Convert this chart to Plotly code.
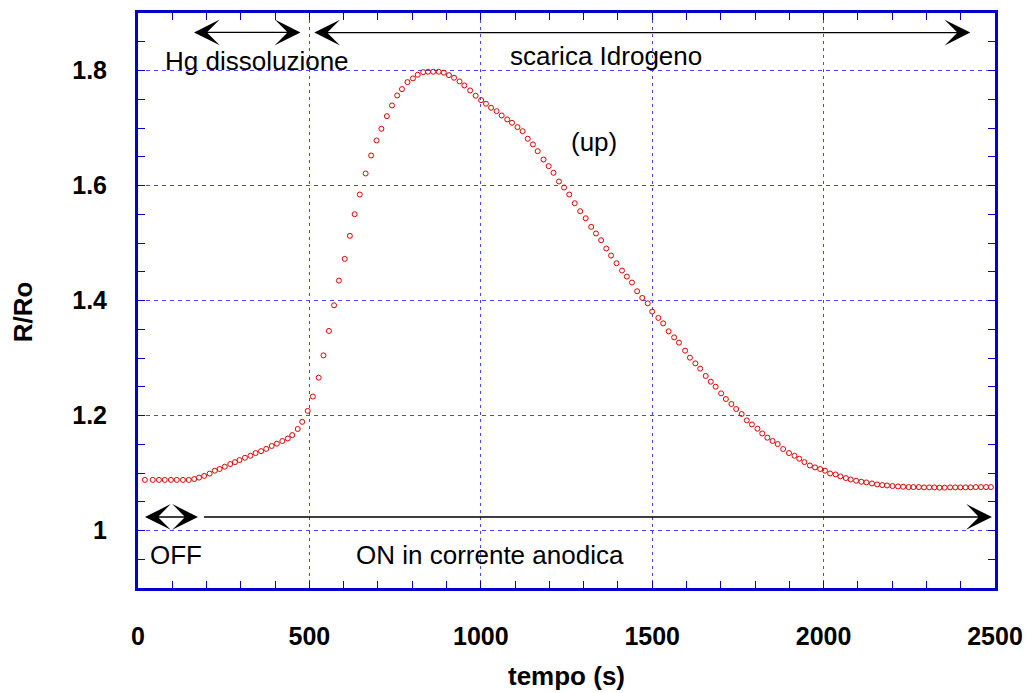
import plotly.graph_objects as go

# ---- data ----
tempo_s = [
    20, 43, 61, 78, 96, 113, 131, 148, 164, 178, 193, 209, 224, 238, 253, 269,
    283, 296, 312, 328, 343, 359, 374, 390, 405, 421, 437, 450, 466, 479, 495, 510,
    527, 541, 557, 572, 586, 603, 618, 632, 647, 664, 680, 696, 710, 726, 741, 756,
    770, 786, 802, 816, 832, 846, 861, 877, 892, 907, 922, 938, 952, 969, 985,
    1001, 1015, 1030, 1046, 1061, 1077, 1091, 1107, 1122, 1137, 1152, 1166, 1183,
    1198, 1212, 1228, 1243, 1258, 1274, 1290, 1306,
    1322, 1336, 1351, 1366, 1380, 1396, 1412, 1426, 1441, 1456, 1471, 1487, 1500, 1518,
    1532, 1548, 1564, 1578, 1596, 1610, 1626, 1640, 1656, 1671, 1685, 1701, 1715,
    1731, 1745, 1761, 1776, 1791, 1807, 1821, 1836, 1851, 1866, 1882,
    1899, 1915, 1929, 1944, 1960, 1975, 1990, 2004, 2019, 2035, 2049, 2065, 2079,
    2095, 2110, 2125, 2141, 2156, 2171, 2185, 2201, 2217, 2232, 2248,
    2262, 2278, 2293, 2308, 2323, 2338, 2353, 2369, 2384, 2399, 2414, 2429, 2444,
    2459, 2474, 2488,
]
r_ro = [
    1.088, 1.088, 1.088, 1.088, 1.088, 1.088, 1.088, 1.088, 1.0895, 1.092, 1.095,
    1.099, 1.104, 1.107, 1.111, 1.1155, 1.119, 1.1225, 1.1265, 1.130, 1.1347, 1.138,
    1.142, 1.147, 1.151, 1.1556, 1.160, 1.166, 1.1765, 1.189, 1.208, 1.233,
    1.2658, 1.3046, 1.3471, 1.3917, 1.4346, 1.4724, 1.5124, 1.5501, 1.5843, 1.6209,
    1.6522, 1.6783, 1.6986, 1.7206, 1.7392, 1.7566, 1.7676, 1.7798, 1.7862, 1.7926,
    1.7972, 1.7979, 1.7979, 1.7979, 1.7962, 1.792, 1.7874, 1.781, 1.774, 1.7653, 1.7561,
    1.7485, 1.7422, 1.7352, 1.7293, 1.7218, 1.7149, 1.7091, 1.7015, 1.6945, 1.6813,
    1.6714, 1.6597, 1.6452, 1.6336, 1.6221, 1.6069, 1.5965, 1.5843, 1.5692, 1.5553, 1.5431,
    1.5281, 1.5165, 1.5048, 1.4904, 1.4782, 1.4648, 1.4521, 1.4416, 1.4312, 1.4161,
    1.4045, 1.3951, 1.3807, 1.3697,
    1.3603, 1.3464, 1.3359, 1.3267, 1.3128, 1.3006, 1.2907, 1.2815, 1.2688, 1.2588,
    1.2501, 1.2385, 1.2287, 1.2200, 1.2113, 1.2026, 1.1915, 1.1845, 1.1770, 1.1688,
    1.1614, 1.1556, 1.1504, 1.1417,
    1.1347, 1.1300, 1.1248, 1.1190, 1.1131, 1.1097, 1.1069, 1.1040, 1.0992, 1.0975,
    1.0940, 1.0912, 1.0888, 1.0865, 1.0848, 1.0836, 1.0818, 1.0801, 1.0790, 1.0783,
    1.0773, 1.0766, 1.0761, 1.0755,
    1.0755, 1.0755, 1.0750, 1.0750, 1.0750, 1.0745, 1.0745, 1.0750, 1.0750, 1.0750,
    1.0750, 1.0750, 1.0755, 1.0755, 1.0755, 1.0755,
]
x_tickvals = [0, 500, 1000, 1500, 2000, 2500]
x_ticktext = ["0", "500", "1000", "1500", "2000", "2500"]
y_tickvals = [1.0, 1.2, 1.4, 1.6, 1.8]
y_ticktext = ["1", "1.2", "1.4", "1.6", "1.8"]
x_title = "tempo (s)"
y_title = "R/Ro"

FONT = "Liberation Sans, Arial, sans-serif"
BLUE = "#0000cc"
GRID = "#4646ff"

fig = go.Figure()
fig.add_trace(go.Scatter(
    x=tempo_s, y=r_ro, mode="markers",
    marker=dict(symbol="circle-open", size=5, color="#e00000",
                line=dict(width=1, color="#e00000")),
    showlegend=False, hoverinfo="x+y",
))

axis_common = dict(
    showline=True, linewidth=3, linecolor=BLUE, mirror="allticks",
    ticks="inside", ticklen=7, tickwidth=1, tickcolor=BLUE,
    showgrid=True, gridcolor=GRID, gridwidth=1,
    zeroline=False,
    tickfont=dict(family=FONT, size=25, color="black", weight="bold"),
)

fig.update_xaxes(
    range=[0, 2500], tickmode="array", tickvals=x_tickvals, ticktext=x_ticktext,
    griddash="3px,4px", ticklabelstandoff=24,
    minor=dict(dtick=100, tick0=0, ticks="inside", ticklen=7, tickcolor=BLUE,
               tickwidth=1, showgrid=False),
    **axis_common,
)
fig.update_yaxes(
    range=[0.9, 1.9], tickmode="array", tickvals=y_tickvals, ticktext=y_ticktext,
    griddash="4px,4px", ticklabelstandoff=23,
    minor=dict(dtick=0.05, tick0=0.9, ticks="inside", ticklen=7, tickcolor=BLUE,
               tickwidth=1, showgrid=False),
    **axis_common,
)

txt_font = dict(family=FONT, size=26, color="black")
texts = [
    ("Hg dissoluzione", 347, 1.817),
    ("scarica Idrogeno", 1366, 1.826),
    ("(up)", 1330, 1.676),
    ("OFF", 109.5, 0.958),
    ("ON in corrente anodica", 1026, 0.958),
]
for t, xx, yy in texts:
    fig.add_annotation(x=xx, y=yy, xref="x", yref="y", text=t, showarrow=False,
                       font=txt_font, xanchor="center", yanchor="middle")

arrow_style = dict(text="", showarrow=True, xref="x", yref="y", axref="x", ayref="y",
                   arrowhead=3, arrowsize=3.3, arrowwidth=1.3, arrowcolor="black",
                   startarrowhead=3, startarrowsize=3.3)
# (tail x, tail y, head x, head y, sides)
arrows = [
    (159, 1.8663, 474, 1.8663, "end+start"),
    (510, 1.8660, 2428, 1.8660, "end+start"),
    (16, 1.0235, 175, 1.0235, "end+start"),
    (188, 1.0235, 2491, 1.0235, "end"),
]
for ax_, ay_, x_, y_, side in arrows:
    fig.add_annotation(x=x_, y=y_, ax=ax_, ay=ay_, arrowside=side, **arrow_style)

fig.add_annotation(x=0.5, y=-0.153, xref="paper", yref="paper", text=x_title,
                   showarrow=False, xanchor="center", yanchor="middle",
                   font=dict(family=FONT, size=26, color="black", weight="bold"))
fig.add_annotation(x=-0.134, y=0.48, xref="paper", yref="paper", text=y_title,
                   showarrow=False, xanchor="center", yanchor="middle", textangle=-90,
                   font=dict(family=FONT, size=26, color="black", weight="bold"))

# the page body adds an 8px offset, so the figure is 8px smaller and margins shifted
fig.update_layout(
    width=1023, height=685,
    margin=dict(l=130, r=36, t=5, b=105, autoexpand=False),
    paper_bgcolor="white", plot_bgcolor="white",
    font=dict(family=FONT),
)

fig.write_html("out.html", config={"displayModeBar": False})
